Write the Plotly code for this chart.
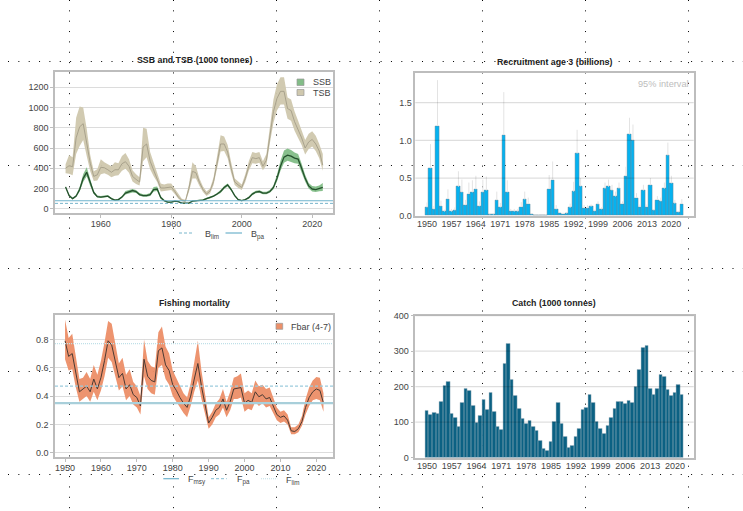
import plotly.graph_objects as go

W, H = 743, 511

years_b = list(range(1950, 2024))
years_f = list(range(1950, 2023))

tsb = [400,425,415,700,810,840,650,450,320,335,410,405,385,360,385,385,445,465,420,320,290,265,610,640,470,380,310,205,205,210,215,170,115,85,75,200,370,355,260,190,145,175,270,450,640,640,560,400,265,235,210,300,420,505,495,505,420,480,720,960,1090,1160,1160,990,970,860,780,700,600,660,685,640,570,430]
tsb_high = [440,530,510,900,1010,1000,790,530,370,390,490,460,440,420,460,450,520,550,490,380,340,310,800,790,560,450,360,250,240,250,250,200,140,100,90,240,460,420,300,220,170,200,310,520,725,715,630,460,300,270,240,340,470,560,550,560,470,540,800,1080,1230,1300,1300,1100,1080,960,870,780,680,740,765,720,640,540]
tsb_low = [350,345,330,540,620,680,520,370,275,280,340,350,335,310,325,330,375,395,355,270,245,230,470,510,390,320,265,170,175,180,185,145,100,75,65,165,300,300,225,165,125,150,235,390,565,570,500,350,235,205,185,265,375,450,445,455,380,430,650,850,970,1030,1030,890,870,770,700,630,535,590,615,570,500,375]
ssb = [215,130,100,125,190,300,360,250,160,120,115,120,125,100,85,90,115,155,165,180,170,140,130,130,140,190,195,110,80,65,65,75,70,55,55,55,75,80,85,85,100,110,125,145,170,210,235,190,130,90,80,90,110,145,165,170,155,155,170,210,300,420,510,530,520,500,490,400,300,225,195,190,200,210]
ssb_high = [225,140,108,135,215,340,410,280,175,130,125,130,135,108,92,98,125,175,185,195,185,155,143,143,155,215,220,125,88,72,72,82,76,60,60,60,82,88,93,93,108,118,134,155,185,225,250,205,140,97,86,97,120,158,178,183,168,168,185,230,335,475,575,595,580,555,540,445,335,255,225,220,230,255]
ssb_low = [205,120,92,115,170,265,320,225,145,110,105,110,115,92,78,82,105,140,150,160,155,128,118,118,127,170,175,98,72,58,58,68,64,50,50,50,68,73,78,78,92,102,116,135,155,195,220,175,120,83,74,83,100,133,152,158,143,143,157,192,270,375,455,475,465,450,445,360,270,200,170,165,172,175]
b_lim = 53
b_pa = 79

recruit = [.11,.63,.085,1.19,.125,.055,.22,.055,.07,.385,.31,.14,.29,.31,.35,.125,.31,.335,.015,.015,.205,.11,1.07,.31,.06,.055,.055,.115,.215,.155,.02,.005,.012,.005,.01,.355,.475,.085,.035,.025,.03,.105,.32,.825,.39,.1,.1,.12,.06,.15,.085,.36,.385,.335,.255,.36,.155,.525,1.08,1.0,.235,.115,.335,.115,.405,.07,.21,.19,.36,.80,.43,.16,.045,.155]
recruit_high = [.175,.95,.13,1.8,.20,.08,.35,.09,.11,.59,.48,.21,.44,.47,.53,.19,.48,.52,.03,.03,.32,.17,1.64,.47,.09,.09,.09,.18,.32,.24,.035,.01,.02,.01,.02,.54,.72,.14,.05,.04,.05,.16,.45,1.14,.5,.14,.14,.15,.08,.19,.11,.44,.48,.41,.32,.44,.19,.65,1.3,1.21,.3,.15,.41,.15,.5,.09,.26,.24,.44,.97,.53,.21,.06,.22]

fbar = [.79,.68,.70,.55,.43,.45,.47,.43,.52,.45,.53,.65,.79,.76,.64,.53,.56,.45,.48,.41,.39,.33,.66,.54,.51,.50,.72,.74,.62,.58,.48,.44,.39,.35,.32,.40,.52,.63,.47,.33,.21,.25,.30,.32,.38,.30,.36,.45,.455,.46,.35,.37,.355,.43,.395,.41,.38,.39,.33,.27,.25,.26,.23,.155,.15,.17,.22,.32,.39,.43,.45,.44,.35]
fbar_high = [.94,.81,.84,.68,.52,.53,.57,.52,.62,.55,.65,.78,.93,.91,.77,.63,.67,.55,.59,.50,.47,.40,.80,.65,.61,.60,.85,.89,.75,.70,.58,.53,.47,.42,.39,.49,.64,.79,.58,.40,.25,.29,.35,.38,.45,.36,.43,.53,.54,.56,.42,.44,.42,.51,.47,.48,.45,.46,.39,.32,.29,.30,.27,.18,.18,.20,.26,.38,.46,.51,.535,.53,.42]
fbar_low = [.66,.58,.59,.46,.36,.38,.40,.36,.43,.37,.44,.54,.67,.64,.54,.44,.47,.37,.40,.34,.32,.27,.54,.45,.42,.41,.60,.62,.52,.48,.40,.36,.32,.28,.25,.33,.43,.51,.38,.27,.17,.20,.25,.27,.32,.25,.30,.38,.38,.39,.29,.31,.30,.36,.33,.35,.32,.33,.28,.23,.21,.22,.20,.13,.13,.145,.19,.27,.33,.37,.38,.37,.29]
f_msy = 0.35
f_pa = 0.47
f_lim = 0.77

catch = [132,120,128,124,157,202,214,123,113,88,155,193,188,146,100,118,162,136,182,131,88,79,266,322,221,176,137,110,96,103,87,76,47,24,20,44,101,155,95,58,27,35,60,82,136,142,178,155,101,83,69,89,114,139,158,158,153,161,156,200,249,310,315,194,177,194,233,228,191,174,182,205,177]

titles = ["SSB and TSB (1000 tonnes)", "Recruitment age 3 (billions)", "Fishing mortality", "Catch (1000 tonnes)"]
bar_ticks = [1950,1957,1964,1971,1978,1985,1992,1999,2006,2013,2020]

FONT = "Liberation Sans"
GRID = "#dcdcdc"
FRAME = "#bdbdbd"
TICKC = "#444444"
TSB_FILL = "#cfc8ae"
SSB_FILL = "#83bd88"
F_FILL = "#ec9069"
BLIM_C, BPA_C = "#79b6cc", "#6fb3cc"
FMSY_C, FPA_C, FLIM_C = "#a8cfda", "#9ccbdd", "#bfe0e8"
DASH_REF = "3px,2px"
DOT_REF = "1px,1px"

def xdom(a, b): return [a / W, b / W]
def ydom(top, bottom): return [1 - bottom / H, 1 - top / H]
def px(x): return x / W
def py(y): return 1 - y / H

fig = go.Figure()

def ribbon(x, lo, hi, name, fill, xa, ya):
    fig.add_trace(go.Scatter(x=x + x[::-1], y=hi + lo[::-1], mode="lines", fill="toself", name=name,
                             fillcolor=fill, line=dict(width=0, color=fill), hoverinfo="skip",
                             opacity=0.96, xaxis=xa, yaxis=ya))

def line(x, y, name, color, width, xa, ya):
    fig.add_trace(go.Scatter(x=x, y=y, mode="lines", name=name, line=dict(color=color, width=width),
                             xaxis=xa, yaxis=ya))

def ref(rng, v, name, color, width, dash, xa, ya):
    fig.add_trace(go.Scatter(x=rng, y=[v, v], mode="lines", name=name,
                             line=dict(color=color, width=width, dash=dash), xaxis=xa, yaxis=ya))

RA = [1947.0, 2025.9]
RC = [1947.2, 2024.65]

# Panel A
ribbon(years_b, tsb_low, tsb_high, "TSB", TSB_FILL, "x", "y")
line(years_b, tsb, "TSB", "#a49d88", 0.9, "x", "y")
ribbon(years_b, ssb_low, ssb_high, "SSB", SSB_FILL, "x", "y")
line(years_b, ssb, "SSB", "#24502c", 1.3, "x", "y")
ref(RA, b_lim, "Blim", BLIM_C, 1, DASH_REF, "x", "y")
ref(RA, b_pa, "Bpa", BPA_C, 1.2, "solid", "x", "y")

# Panel B
fig.add_trace(go.Bar(x=years_b, y=recruit, name="Recruitment",
                     marker=dict(color="#05b2f0", line=dict(color="#6d8794", width=0.45)),
                     error_y=dict(type="data", symmetric=False,
                                  array=[h - v for h, v in zip(recruit_high, recruit)],
                                  arrayminus=[0] * len(recruit),
                                  color="#e3e3e3", thickness=1, width=0),
                     xaxis="x2", yaxis="y2"))

# Panel C
ribbon(years_f, fbar_low, fbar_high, "Fbar (4-7)", F_FILL, "x3", "y3")
line(years_f, fbar, "Fbar (4-7)", "#4b3a33", 1, "x3", "y3")
ref(RC, f_msy, "Fmsy", FMSY_C, 2.2, "solid", "x3", "y3")
ref(RC, f_pa, "Fpa", FPA_C, 1.3, DASH_REF, "x3", "y3")
ref(RC, f_lim, "Flim", FLIM_C, 1.1, DOT_REF, "x3", "y3")

# Panel D
fig.add_trace(go.Bar(x=years_f, y=catch, name="Catch",
                     marker=dict(color="#0b6183", line=dict(color="#9fb4be", width=0.45)),
                     xaxis="x4", yaxis="y4"))

axcommon = dict(showline=True, linecolor=FRAME, linewidth=1.5, mirror=True, zeroline=False,
                tickangle=0, tickfont=dict(family=FONT, size=9, color=TICKC))
xa = dict(axcommon, showgrid=False)
ya = dict(axcommon, showgrid=True, gridcolor=GRID, gridwidth=1.3)
ya_nogrid = dict(axcommon, showgrid=False)

catch_ticks = [0, 100, 200, 300, 400]
rec_ticks = [0.0, 0.5, 1.0, 1.5]

layout = dict(
    width=W, height=H, autosize=False, margin=dict(l=0, r=0, t=0, b=0, pad=0, autoexpand=False),
    paper_bgcolor="white", plot_bgcolor="rgba(0,0,0,0)", bargap=0.0, showlegend=False,
    font=dict(family=FONT, size=9, color=TICKC),
    xaxis=dict(xa, domain=xdom(55, 333), range=RA, tickvals=[1960,1980,2000,2020], anchor="y",
               ticks="outside", ticklen=3, tickcolor=FRAME, ticklabelstandoff=-2),
    yaxis=dict(ya, domain=ydom(72, 213), range=[-42, 1351], tickvals=[0,200,400,600,800,1000,1200], anchor="x",
               ticks="outside", ticklen=3, tickcolor=FRAME),
    xaxis2=dict(xa, domain=xdom(415.3, 693.7), range=[1946.65, 2026.4], tickvals=bar_ticks, ticks="", anchor="y2", ticklabelstandoff=-1),
    yaxis2=dict(ya_nogrid, domain=ydom(73.3, 215.7), range=[0, 1.89], tickvals=rec_ticks, tickformat=".1f", ticks="", anchor="x2"),
    xaxis3=dict(xa, domain=xdom(55, 333), range=RC, tickvals=list(range(1950, 2021, 10)), anchor="y3",
                ticks="outside", ticklen=3, tickcolor=FRAME, ticklabelstandoff=-2),
    yaxis3=dict(ya, domain=ydom(315, 457.3), range=[-0.032, 0.972], tickvals=[0,.2,.4,.6,.8], tickformat=".1f", anchor="x3",
                ticks="outside", ticklen=3, tickcolor=FRAME),
    xaxis4=dict(xa, domain=xdom(415.3, 693.7), range=[1946.7, 2025.3], tickvals=bar_ticks, ticks="", anchor="y4", ticklabelstandoff=-1),
    yaxis4=dict(ya_nogrid, domain=ydom(315.7, 457.7), range=[0, 400], tickvals=catch_ticks, anchor="x4",
                ticks="outside", ticklen=3, tickcolor=FRAME),
)

shapes = []
# Dotted page raster, drawn behind the panels
for cx in [69.5, 173.5, 276.5, 379.5, 482.5, 585.5, 688.5]:
    shapes.append(dict(type="line", xref="paper", yref="paper", x0=px(cx), x1=px(cx), y0=1, y1=0,
                       line=dict(color="#000000", width=1, dash="1px,9.35px"), layer="below"))
for ry in [61.5, 165.5, 268.5, 371.5, 474.5]:
    shapes.append(dict(type="line", xref="paper", yref="paper", x0=px(8), x1=1, y0=py(ry), y1=py(ry),
                       line=dict(color="#000000", width=1, dash="1px,9.35px"), layer="below"))
# Grid lines above the bars
for v in rec_ticks[1:]:
    shapes.append(dict(type="line", xref="x2 domain", yref="y2", x0=0, x1=1, y0=v, y1=v,
                       line=dict(color="rgba(0,0,0,0.13)", width=1.3), layer="above"))
for v in catch_ticks[1:]:
    shapes.append(dict(type="line", xref="x4 domain", yref="y4", x0=0, x1=1, y0=v, y1=v,
                       line=dict(color="rgba(0,0,0,0.13)", width=1.3), layer="above"))

ann = []
def text(t, x, y, size=9, color=TICKC, anchor="left"):
    ann.append(dict(text=t, x=px(x), y=py(y), xref="paper", yref="paper", showarrow=False,
                    xanchor=anchor, yanchor="middle", borderpad=0,
                    font=dict(family=FONT, size=size, color=color)))

def key_patch(x0, x1, y0, y1, fill):
    shapes.append(dict(type="rect", xref="paper", yref="paper", x0=px(x0), x1=px(x1), y0=py(y1), y1=py(y0),
                       fillcolor=fill, line=dict(color="#9a9a9a", width=0.7), layer="above"))

def key_line(x0, x1, y, color, width, dash):
    shapes.append(dict(type="line", xref="paper", yref="paper", x0=px(x0), x1=px(x1), y0=py(y), y1=py(y),
                       line=dict(color=color, width=width, dash=dash), layer="above"))

for t, (a, b) in zip(titles, [(194, 59.7), (554, 62), (194, 303), (554, 303)]):
    text(f"<b>{t}</b>", a, b, size=8.8, color="#222222", anchor="center")
text("95% interval", 689.5, 84.5, size=9.2, color="#bdbdbd", anchor="right")

# Panel A keys
key_patch(297, 304, 79, 85.5, SSB_FILL)
key_patch(297, 304, 89.5, 95.5, TSB_FILL)
text("SSB", 312, 82.3)
text("TSB", 312, 92.7)
key_line(179, 194, 233, BLIM_C, 1, DASH_REF)
text("B<sub>lim</sub>", 203.5, 234.5)
key_line(225.5, 242, 233, BPA_C, 1.2, "solid")
text("B<sub>pa</sub>", 250, 234.5)

# Panel C keys
key_patch(276, 282.7, 323.3, 329.3, F_FILL)
text("Fbar (4-7)", 290, 326.7)
key_line(163.3, 179, 478.7, BPA_C, 1.2, "solid")
text("F<sub>msy</sub>", 186.7, 480.2)
key_line(211, 226.7, 478.7, FPA_C, 1.2, DASH_REF)
text("F<sub>pa</sub>", 236, 480.2)
key_line(261, 277.3, 478.7, FLIM_C, 1.1, DOT_REF)
text("F<sub>lim</sub>", 285, 480.2)

layout["shapes"] = shapes
layout["annotations"] = ann

fig.update_layout(**layout)
fig.write_html("out.html", config=dict(displayModeBar=False),
               post_script="document.body.style.margin='0';document.body.style.overflow='hidden';")
